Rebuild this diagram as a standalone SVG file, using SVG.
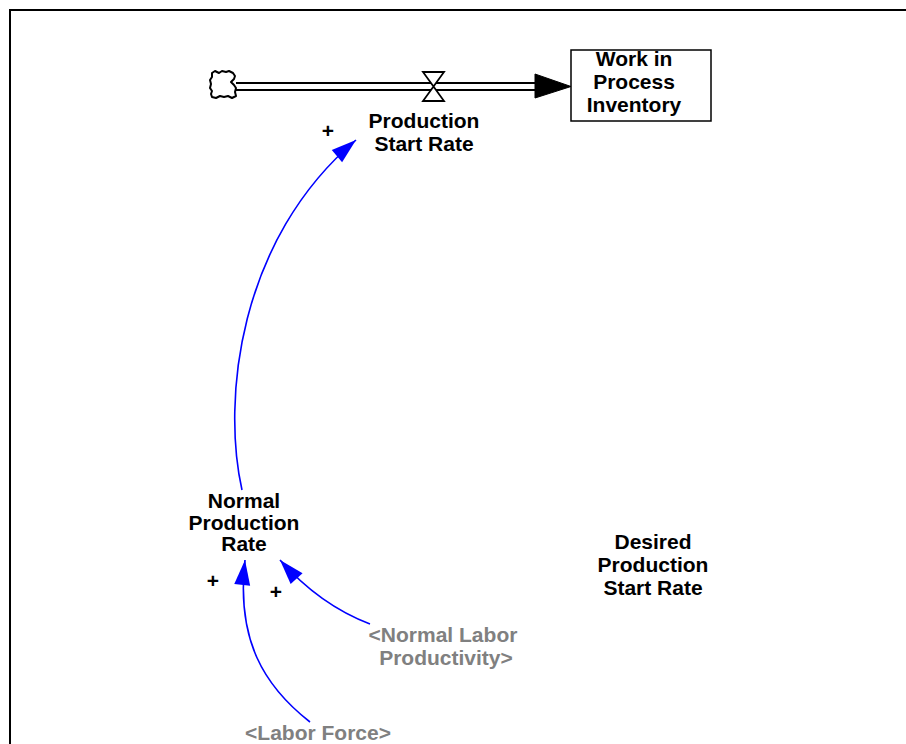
<svg xmlns="http://www.w3.org/2000/svg" width="906" height="744" viewBox="0 0 906 744">
<defs>
<style>
.lbl{font-family:"Liberation Sans",Arial,Helvetica,sans-serif;font-size:21px;font-weight:bold;text-anchor:middle;fill:#000}
.shadow{fill:#808080}
.sign{font-family:"Liberation Sans",Arial,sans-serif;font-size:21px;font-weight:bold;text-anchor:middle;fill:#000}
.link{fill:none;stroke:#0000FF;stroke-width:1.6}
.pipe{stroke:#000;stroke-width:2;fill:none}
</style>
<marker id="ah" viewBox="-26 -9 27 18" refX="0" refY="0" markerWidth="27" markerHeight="18" markerUnits="userSpaceOnUse" orient="auto">
<path d="M0,0 L-25,-8 L-25,8 Z" fill="#0000FF"/>
</marker>
</defs>
<rect x="10" y="10" width="910" height="750" fill="none" stroke="#000" stroke-width="2"/>

<g id="connectors">
<line class="pipe" x1="236" y1="83" x2="536" y2="83"/>
<line class="pipe" x1="236" y1="90" x2="536" y2="90"/>
<path d="M535,74 L571,86.5 L535,98 Z" fill="#000" stroke="#000" stroke-width="1"/>
<path class="link" d="M242,490 C222,400 238,240 356,140" marker-end="url(#ah)"/>
<path class="link" d="M310,722 C264,686 236,640 245,560" marker-end="url(#ah)"/>
<path class="link" d="M370,624 Q320,605 280,560" marker-end="url(#ah)"/>
<text class="sign" x="328" y="138">+</text>
<text class="sign" x="213" y="588">+</text>
<text class="sign" x="276" y="599">+</text>
</g>

<g id="source-cloud">
<path d="M212,73 L215,71 L219,73 L222,71 L226,72 L229,71 L233,73 L235,76 L234,79 L231,82 L234,85 L236,88 L235,92 L236,96 L232,98 L228,96 L224,97 L220,96 L216,98 L212,97 L211,94 L212,91 L210,88 L211,84 L210,80 L212,77 Z" fill="#fff" stroke="#000" stroke-width="2" stroke-linejoin="round"/>
</g>

<g id="valve">
<path d="M423,72 L444,72 L433.5,86.5 Z M423,101 L444,101 L433.5,86.5 Z" fill="#fff" stroke="#000" stroke-width="1.8" stroke-linejoin="miter"/>
</g>

<g id="production-start-rate">
<text class="lbl" x="424" y="128">Production</text>
<text class="lbl" x="424" y="151">Start Rate</text>
</g>

<g id="work-in-process-inventory">
<rect x="571" y="50" width="140" height="71" fill="#fff" stroke="#000" stroke-width="1.5"/>
<text class="lbl" x="634" y="66">Work in</text>
<text class="lbl" x="634" y="89">Process</text>
<text class="lbl" x="634" y="112">Inventory</text>
</g>

<g id="normal-production-rate">
<text class="lbl" x="244" y="508">Normal</text>
<text class="lbl" x="244" y="530">Production</text>
<text class="lbl" x="244" y="551">Rate</text>
</g>

<g id="desired-production-start-rate">
<text class="lbl" x="653" y="549">Desired</text>
<text class="lbl" x="653" y="572">Production</text>
<text class="lbl" x="653" y="595">Start Rate</text>
</g>

<g id="normal-labor-productivity">
<text class="lbl shadow" x="443" y="642">&lt;Normal Labor</text>
<text class="lbl shadow" x="446" y="665">Productivity&gt;</text>
</g>

<g id="labor-force">
<text class="lbl shadow" x="318" y="740">&lt;Labor Force&gt;</text>
</g>
</svg>
